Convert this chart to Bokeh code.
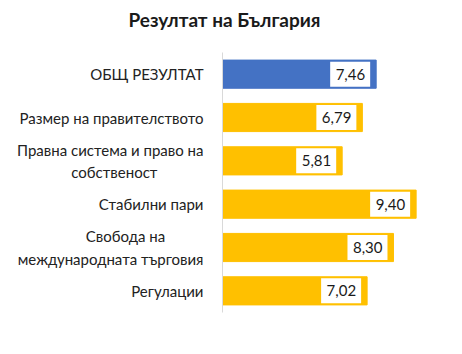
from bokeh.plotting import figure
from bokeh.models import FactorRange, ColumnDataSource, Title
from bokeh.core.properties import value
from bokeh.embed import file_html
from bokeh.resources import INLINE

NB = "\u00a0"
title_text = "Резултат на България"
categories = ["ОБЩ РЕЗУЛТАТ", "Размер на правителството", "Правна система и право на\nсобственост" + NB * 12,
              "Стабилни пари", "Свобода на" + NB * 10 + "\nмеждународната търговия", "Регулации"]
scores = [7.46, 6.79, 5.81, 9.40, 8.30, 7.02]
labels = ["7,46", "6,79", "5,81", "9,40", "8,30", "7,02"]
colors = ["#4472C4", "#FFC000", "#FFC000", "#FFC000", "#FFC000", "#FFC000"]

FONT = "Lato"
px_per_unit = 20.6
frame_w = 462 - 222 - 20

p = figure(width=462, height=354, output_backend="svg", toolbar_location=None,
           y_range=FactorRange(factors=list(reversed(categories)), range_padding=0),
           x_range=(0, frame_w / px_per_unit),
           min_border_left=222, min_border_right=20, min_border_top=52, min_border_bottom=42)
p.outline_line_color = None
p.grid.visible = False
p.xaxis.visible = False

main_title = Title(text=title_text, align="left", offset=-94, vertical_align="top", standoff=15,
                   text_font=FONT, text_font_size="19px", text_font_style="bold", text_color="#1a1a1a")
spacer = Title(text=NB, text_font=FONT, text_font_size="8px", standoff=0)
p.add_layout(spacer, "above")
p.add_layout(main_title, "above")

yax = p.yaxis[0]
yax.axis_line_color = "#d9d9d9"
yax.major_tick_line_color = None
yax.minor_tick_line_color = None
yax.major_label_standoff = 13
yax.major_label_text_font = FONT
yax.major_label_text_font_size = "15px"
yax.major_label_text_color = "#222222"
yax.major_label_text_line_height = 1.25

src = ColumnDataSource(dict(cat=categories, v=scores, lab=labels, col=colors,
                            bx=[s - (6 + 20) / px_per_unit for s in scores],
                            tx=[s - 11 / px_per_unit for s in scores]))

p.hbar(y="cat", right="v", left=0, height=0.65, color="col", source=src)
p.rect(x="bx", y="cat", width=40, height=25, width_units="screen", height_units="screen",
       fill_color="white", line_color=None, source=src)
p.text(x="tx", y="cat", text="lab", text_align="right", text_baseline="middle",
       text_font=value(FONT), text_font_size="15px", text_color="#1a1a1a", source=src)

open("out.html", "w").write(file_html(p, INLINE))
